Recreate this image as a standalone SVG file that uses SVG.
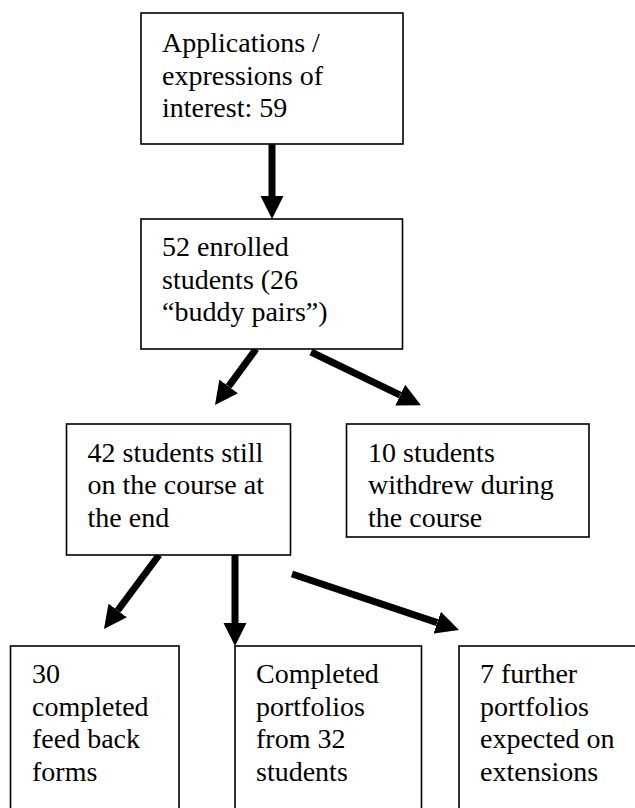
<svg xmlns="http://www.w3.org/2000/svg" width="635" height="808" viewBox="0 0 635 808">
  <style>
    .box { fill: #ffffff; stroke: #000000; stroke-width: 1.6; }
    .lbl { font-family: 'Liberation Serif', 'Times New Roman', serif; font-size: 28px; fill: #000000; }
    .arrow { stroke: #000000; stroke-width: 7; fill: none; marker-end: url(#ah); }
  </style>
  <defs>
    <marker id="ah" markerUnits="userSpaceOnUse" markerWidth="24" markerHeight="24" viewBox="0 0 24 24" refX="0" refY="12" orient="auto">
      <path d="M0,0.5 L23,12 L0,23.5 z" fill="#000000"/>
    </marker>
  </defs>
  <rect width="635" height="808" fill="#ffffff"/>

  <g id="connectors">
    <line class="arrow" x1="272" y1="144" x2="272" y2="196"/>
    <line class="arrow" x1="256" y1="349" x2="228.6" y2="386.4"/>
    <line class="arrow" x1="311" y1="352" x2="400.2" y2="395.2"/>
    <line class="arrow" x1="159" y1="555" x2="117.7" y2="610.5"/>
    <line class="arrow" x1="235" y1="555" x2="235" y2="623"/>
    <line class="arrow" x1="292" y1="574" x2="437.2" y2="622.6"/>
  </g>

  <g id="n-applications">
    <rect class="box" x="141" y="13" width="262" height="131"/>
    <text class="lbl" x="162" y="52">Applications /</text>
    <text class="lbl" x="162" y="84.5">expressions of</text>
    <text class="lbl" x="162" y="117">interest: 59</text>
  </g>

  <g id="n-enrolled">
    <rect class="box" x="141" y="219" width="261.5" height="130"/>
    <text class="lbl" x="162" y="256">52 enrolled</text>
    <text class="lbl" x="162" y="288.5">students (26</text>
    <text class="lbl" x="162" y="321">“buddy pairs”)</text>
  </g>

  <g id="n-still">
    <rect class="box" x="66.5" y="424" width="224" height="131"/>
    <text class="lbl" x="87.5" y="461.5">42 students still</text>
    <text class="lbl" x="87.5" y="494">on the course at</text>
    <text class="lbl" x="87.5" y="526.5">the end</text>
  </g>

  <g id="n-withdrew">
    <rect class="box" x="346.5" y="424" width="242.5" height="113"/>
    <text class="lbl" x="368" y="461.5">10 students</text>
    <text class="lbl" x="368" y="494">withdrew during</text>
    <text class="lbl" x="368" y="526.5">the course</text>
  </g>

  <g id="n-feedback">
    <rect class="box" x="10.5" y="646" width="168.5" height="175"/>
    <text class="lbl" x="32" y="683">30</text>
    <text class="lbl" x="32" y="715.5">completed</text>
    <text class="lbl" x="32" y="748">feed back</text>
    <text class="lbl" x="32" y="780.5">forms</text>
  </g>

  <g id="n-portfolios">
    <rect class="box" x="235" y="646" width="186.5" height="175"/>
    <text class="lbl" x="256" y="683">Completed</text>
    <text class="lbl" x="256" y="715.5">portfolios</text>
    <text class="lbl" x="256" y="748">from 32</text>
    <text class="lbl" x="256" y="780.5">students</text>
  </g>

  <g id="n-further">
    <rect class="box" x="459" y="646" width="200" height="175"/>
    <text class="lbl" x="480" y="683">7 further</text>
    <text class="lbl" x="480" y="715.5">portfolios</text>
    <text class="lbl" x="480" y="748">expected on</text>
    <text class="lbl" x="480" y="780.5">extensions</text>
  </g>
</svg>
